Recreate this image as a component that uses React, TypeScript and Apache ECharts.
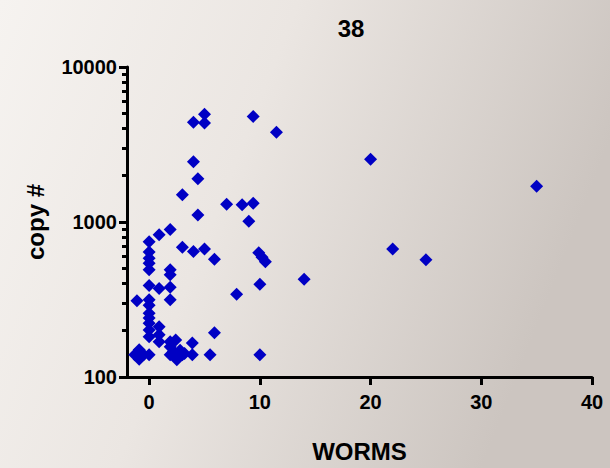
import React, { useEffect, useRef } from "react";
import * as echarts from "echarts";

const worms = [
  4, 5, 5, 9.4, 11.5, 4, 4.4, 3, 7, 8.4, 9.4, 4.4, 9, 20, 35, 22, 25, 14,
  1.9, 0.9, 3, 4, 5, 5.9, 9.9, 10.2, 10.5, 7.9, 10, 10, 5.9, 5.5,
  0, 0, 0, 0, 0, 1.9, 1.9, 0, 0.9, 1.9, -1.1, 0, 1.9, 0, 0, 0, 0, 0,
  0.9, 0.9, 0.9, 0, 2.4, 1.9, 1.9, 2.5, 2.8, 3.9, 3.9, 3, -1.3, -0.9, -0.9, -0.5, 0, 1.9, 2.2, 3.2,
];
const copies = [
  4400, 4950, 4350, 4800, 3800, 2450, 1900, 1500, 1300, 1290, 1320, 1110, 1010, 2540, 1700, 670, 570, 427,
  895, 828, 686, 645, 670, 575, 634, 592, 555, 342, 396, 139, 193, 139,
  746, 641, 584, 542, 492, 492, 457, 390, 372, 379, 310, 315, 315, 290, 258, 240, 222, 201,
  211, 187, 169, 182, 173, 157, 139, 129, 149, 166, 139, 139, 139, 150, 130, 139, 139, 169, 146, 142,
];
const xTicks = [0, 10, 20, 30, 40];
const yMinorTicks = [200, 300, 400, 500, 600, 700, 800, 900, 2000, 3000, 4000, 5000, 6000, 7000, 8000, 9000];
const titleText = "38";
const xName = "WORMS";
const yName = "copy #";

export default function App() {
  const ref = useRef<HTMLDivElement>(null);
  useEffect(() => {
    if (!ref.current) return;
    const chart = echarts.init(ref.current, null, { renderer: "svg" });
    const font = "'Liberation Sans', Arial, sans-serif";
    const data = worms.map((w, i) => [w, copies[i]]);
    chart.setOption({
      animation: false,
      backgroundColor: {
        type: "linear",
        x: 0, y: 0, x2: 1, y2: 0.3,
        colorStops: [
          { offset: 0, color: "#f6f3f0" },
          { offset: 0.45, color: "#ebe6e2" },
          { offset: 1, color: "#ccc5c0" },
        ],
      },
      title: {
        text: titleText,
        left: 346,
        top: 11,
        textAlign: "center",
        textStyle: { fontFamily: font, fontWeight: "bold", fontSize: 24, color: "#000" },
      },
      grid: { left: 127, right: 18, top: 67, bottom: 91, outerBoundsMode: "none", containLabel: false },
      xAxis: {
        type: "value",
        min: -2,
        max: 40,
        name: xName,
        nameLocation: "middle",
        nameGap: 62,
        nameTextStyle: { fontFamily: font, fontWeight: "bold", fontSize: 24, color: "#000" },
        splitLine: { show: false },
        axisLine: { show: true, onZero: false, lineStyle: { color: "#000", width: 3 } },
        axisTick: { show: true, length: 8, lineStyle: { color: "#000", width: 3 }, customValues: xTicks },
        axisLabel: {
          customValues: xTicks,
          margin: 15,
          fontFamily: font,
          fontWeight: "bold",
          fontSize: 20,
          color: "#000",
        },
      },
      yAxis: [
        {
          type: "log",
          logBase: 10,
          min: 100,
          max: 10000,
          name: yName,
          nameLocation: "middle",
          nameGap: 80,
          nameTextStyle: { fontFamily: font, fontWeight: "bold", fontSize: 24, color: "#000" },
          splitLine: { show: false },
          axisLine: { show: true, onZero: false, lineStyle: { color: "#000", width: 3 } },
          axisTick: { show: true, length: 8, lineStyle: { color: "#000", width: 3 } },
          minorTick: { show: false },
          axisLabel: {
            margin: 10,
            fontFamily: font,
            fontWeight: "bold",
            fontSize: 20,
            color: "#000",
            formatter: (v: number) => String(Math.round(v)),
          },
        },
        {
          type: "log",
          logBase: 10,
          min: 100,
          max: 10000,
          position: "left",
          splitLine: { show: false },
          axisLine: { show: false, onZero: false },
          axisTick: { show: true, length: 5, lineStyle: { color: "#000", width: 3 }, customValues: yMinorTicks },
          axisLabel: { show: false },
        },
      ],
      series: [
        {
          type: "scatter",
          symbol: "diamond",
          symbolSize: 13,
          itemStyle: { color: "#0000c4", opacity: 1 },
          data,
        },
      ],
    });
    return () => chart.dispose();
  }, []);
  return <div ref={ref} style={{ position: "fixed", left: 0, top: 0, width: 610, height: 468 }} />;
}
